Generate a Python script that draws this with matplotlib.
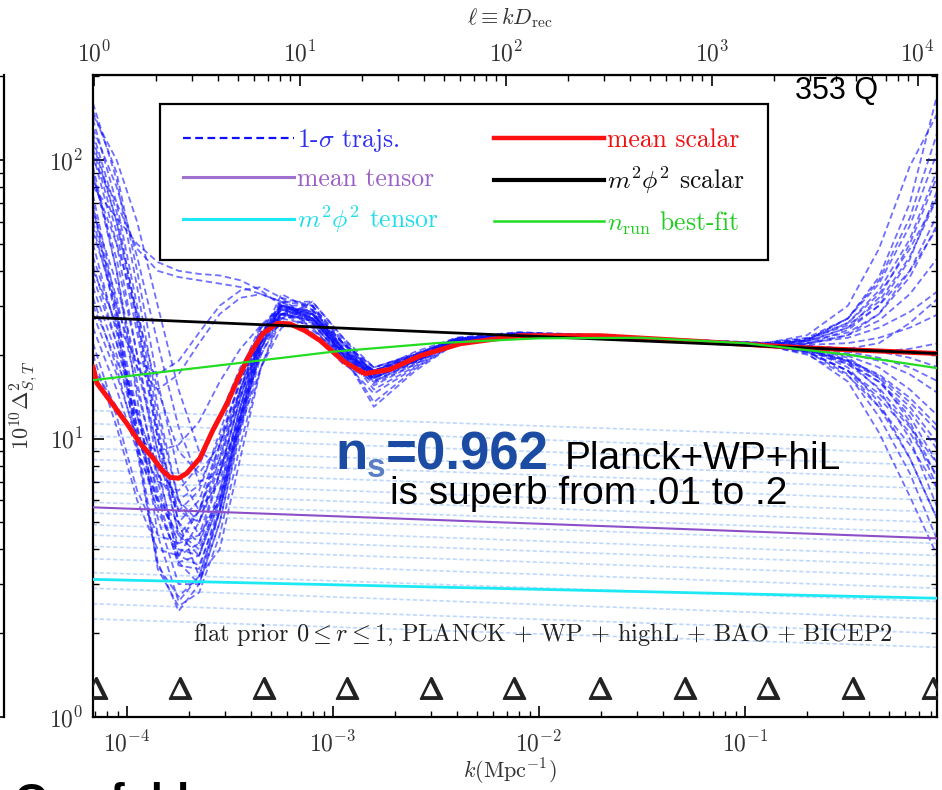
import matplotlib
matplotlib.use("Agg")
import matplotlib.pyplot as plt
from matplotlib.lines import Line2D

plt.rcParams["font.family"] = ["cmr10", "DejaVu Serif"]
plt.rcParams["mathtext.fontset"] = "cm"
plt.rcParams["axes.formatter.use_mathtext"] = True

# ---- data ----
k_lim = [6.84e-5, 0.855]
y_lim = [1.0, 202.0]
D_REC = 14500.0

# common k grid for the 1-sigma scalar trajectories
k_grid = [6.84e-5, 8.91e-5, 1.12e-4, 1.41e-4, 1.78e-4, 2.24e-4, 2.82e-4, 3.55e-4, 4.47e-4, 5.62e-4,
          7.94e-4, 1.12e-3, 1.58e-3, 2.51e-3, 3.98e-3, 7.94e-3, 1.58e-2, 3.16e-2, 6.31e-2, 0.126,
          0.200, 0.316, 0.447, 0.631, 0.871]

scalar_trajs = [
    [140, 70, 30, 12, 6.0, 5.0, 7.5, 14, 24, 29, 27, 20, 16.5, 19, 22, 23.8, 23.5, 22.9, 22.3, 21.8, 22.5, 27, 38, 70, 180],
    [120, 60, 26, 10, 4.5, 3.8, 6.0, 12, 22, 30, 28, 21, 17, 19.5, 22.5, 23.5, 23.0, 22.5, 22.0, 21.5, 21.0, 19, 15, 10, 5.5],
    [95, 40, 14, 4.5, 2.6, 3.2, 5.5, 11.5, 21, 31, 30, 21, 15.5, 18.5, 22.5, 24.0, 23.6, 23.0, 22.4, 22.0, 23.5, 30, 48, 95, 150],
    [75, 30, 10, 3.6, 2.4, 3.0, 5.5, 12, 23, 33, 29, 19, 14.5, 18, 22, 23.6, 23.3, 22.8, 22.2, 21.6, 20.5, 17, 12, 7.5, 4.2],
    [60, 32, 15, 7.5, 4.0, 3.8, 6.0, 12, 22, 28, 26, 19.5, 16.5, 19, 22.5, 23.9, 23.4, 22.8, 22.3, 21.9, 22.8, 25.5, 31, 45, 75],
    [110, 55, 24, 10, 5.5, 5.0, 8.0, 15, 25, 30, 27, 20, 17, 19.5, 22.8, 23.7, 23.3, 22.7, 22.1, 21.5, 20.6, 18.5, 16, 12.5, 9],
    [45, 25, 12, 6.5, 4.2, 4.5, 7.5, 14, 23, 28, 27, 21, 17.5, 20, 22.8, 23.6, 23.2, 22.6, 22.1, 21.7, 22.0, 23.5, 26.5, 33, 45],
    [35, 20, 10.5, 6.0, 4.5, 5.5, 9.5, 16.5, 25, 29, 27, 20.5, 17, 19.8, 22.3, 23.4, 23.1, 22.7, 22.2, 21.6, 21.0, 19.8, 18, 15, 12],
    [28, 17, 10, 7, 6.5, 8.0, 12, 18, 24, 27, 25.5, 20, 17.5, 20.5, 23.0, 24.0, 23.7, 23.0, 22.5, 21.9, 21.2, 20.2, 19, 17, 14.5],
    [22, 12, 6.5, 4.5, 4.2, 5.5, 9, 15, 23, 28, 25, 19, 16.5, 19.5, 22.5, 23.8, 23.5, 22.9, 22.4, 22.0, 22.4, 24, 28, 38, 60],
    [18, 13, 10, 9, 9.5, 11.5, 16, 21, 25.5, 26.5, 24, 18.5, 16, 19, 22.4, 23.7, 23.4, 22.8, 22.3, 21.8, 21.0, 18, 13.5, 8.5, 5.0],
    [130, 80, 45, 22, 11, 7.0, 7.5, 12, 20, 27, 28, 22, 18, 20, 22.8, 23.8, 23.4, 22.8, 22.3, 21.8, 21.7, 22, 23, 25, 28],
    [100, 70, 48, 40, 38, 37, 36, 35, 33, 31, 27, 21, 17.5, 19.5, 22.5, 23.6, 23.3, 22.7, 22.2, 21.7, 22.3, 25, 32, 50, 90],
    [80, 62, 50, 43, 40, 39, 38.5, 37, 34, 30, 25, 19.5, 17, 19.5, 22.6, 23.9, 23.5, 22.8, 22.2, 21.6, 20.8, 18.8, 16, 12, 8],
    [55, 30, 18, 15, 17, 22, 28, 32, 33, 31, 26, 20, 17.5, 20, 23, 24.1, 23.6, 23.0, 22.5, 22.0, 22.8, 26, 33, 48, 75],
    [40, 26, 19, 17, 19, 24, 30, 34, 35, 32, 26, 19.5, 16.5, 19.2, 22.4, 23.7, 23.3, 22.8, 22.3, 21.7, 20.8, 19, 16.5, 13, 9.5],
    [150, 90, 40, 16, 7.5, 5.5, 7, 13, 23, 31, 31, 23, 18, 20, 22.6, 23.7, 23.3, 22.7, 22.1, 21.6, 21.5, 21, 20.5, 19.5, 18],
    [70, 28, 9.5, 3.4, 2.5, 2.8, 4.5, 9.5, 18, 27, 31, 23, 17, 19, 22.2, 23.6, 23.2, 22.6, 22.0, 21.5, 20.2, 16, 10.5, 6.2, 3.7],
    [90, 40, 16, 7.0, 3.8, 3.5, 5.5, 11.5, 22, 32, 30, 20, 13.5, 17.8, 22.2, 23.9, 23.6, 23.0, 22.5, 22.1, 23.0, 27, 36, 58, 110],
    [50, 24, 11, 5.2, 3.0, 3.0, 5.0, 10.5, 20, 28, 29, 22, 17.5, 19.8, 22.6, 23.6, 23.3, 22.7, 22.2, 21.7, 21.4, 20.5, 19.5, 18, 16],
    [32, 18, 9.5, 5.5, 3.8, 4.2, 7.5, 14, 23, 29.5, 28, 21, 16.8, 19.3, 22.3, 23.5, 23.2, 22.6, 22.1, 21.6, 20.0, 16.8, 13, 9.5, 6.5],
    [25, 15, 9.0, 6.0, 5.0, 6.0, 9.5, 16, 24, 28, 26.5, 20.5, 17.2, 19.7, 22.7, 23.9, 23.5, 22.9, 22.3, 21.8, 22.0, 23, 25, 28.5, 34],
    [160, 85, 35, 13, 6.0, 4.5, 6.0, 11.5, 21, 28, 28, 21.5, 17.5, 19.6, 22.4, 23.5, 23.1, 22.6, 22.1, 21.6, 21.8, 23.5, 28, 40, 65],
    [65, 36, 18, 9, 5.5, 5.5, 8.5, 15, 24, 30, 28, 20, 13, 17.5, 22.1, 23.6, 23.3, 22.7, 22.1, 21.6, 20.8, 19, 17, 14, 11],
    [20, 11, 6.0, 4.0, 3.8, 5.0, 8.5, 14.5, 22, 26, 24.5, 19.8, 17, 19.4, 22.3, 23.7, 23.4, 22.9, 22.4, 21.9, 21.5, 21, 20.5, 21, 22],
    [85, 50, 28, 15, 9.0, 7.5, 9.5, 15, 23, 28, 26.5, 20.5, 17.5, 20, 22.9, 23.8, 23.4, 22.8, 22.2, 21.7, 20.5, 17.5, 14, 10.5, 7.2],
    [115, 60, 28, 11, 5.0, 3.2, 4.0, 8.5, 18, 28, 30, 22.5, 17, 19, 22.3, 23.6, 23.2, 22.6, 22.1, 21.6, 22.5, 26, 34, 52, 95],
    [38, 22, 12.5, 7.5, 5.5, 6.5, 10.5, 17.5, 25.5, 30, 27, 20, 16.2, 18.8, 22.4, 23.7, 23.3, 22.8, 22.3, 21.8, 21.2, 19.5, 16.5, 11.5, 7],
    [125, 65, 27, 10.5, 5.0, 4.2, 6.5, 13, 23, 30, 28.5, 21, 16.5, 19.2, 22.4, 23.6, 23.2, 22.7, 22.2, 21.7, 21.9, 24.5, 30, 44, 80],
    [105, 50, 20, 8, 3.6, 3.0, 5.0, 11, 21, 29, 29, 22, 17, 19, 22.3, 23.7, 23.3, 22.7, 22.1, 21.6, 20.6, 17.5, 13, 8.5, 5],
    [58, 28, 12.5, 6.2, 3.5, 3.4, 5.8, 12, 22, 30, 28.5, 21, 16, 18.8, 22.4, 23.8, 23.4, 22.8, 22.3, 21.8, 22.4, 25, 30, 40, 58],
    [42, 22, 11, 5.8, 3.6, 3.8, 6.5, 13, 23, 29, 27.5, 20.8, 16.8, 19.4, 22.5, 23.7, 23.3, 22.7, 22.2, 21.7, 21.0, 19.2, 16.8, 13.5, 10.5],
    [145, 100, 60, 30, 15, 9, 8, 11, 18, 25, 27, 22, 18, 20.2, 22.7, 23.7, 23.3, 22.7, 22.2, 21.7, 22.6, 27, 37, 62, 130],
    [30, 19, 12, 8, 6, 6.8, 10, 16, 23.5, 28, 26.5, 20.3, 16.6, 19.2, 22.5, 23.8, 23.4, 22.8, 22.2, 21.7, 20.4, 17.5, 14.5, 11, 8],
    [68, 26, 9, 3.5, 2.7, 3.2, 5.5, 11, 21, 30, 30, 22, 15.8, 18.5, 22.2, 23.7, 23.3, 22.7, 22.2, 21.7, 21.2, 21, 22, 26, 32],
    [88, 44, 20, 9, 4.6, 4.0, 6.2, 12.5, 22.5, 29.5, 28, 20.5, 15, 18.2, 22.3, 23.8, 23.5, 22.9, 22.3, 21.8, 20.9, 18.5, 15.2, 11.2, 6.5],
]

# mean scalar (red)
k_red = [6.84e-5, 7.15e-5, 8.26e-5, 1.0e-4, 1.16e-4, 1.34e-4, 1.48e-4, 1.62e-4, 1.78e-4, 1.95e-4,
         2.26e-4, 2.61e-4, 3.05e-4, 3.42e-4, 3.95e-4, 4.57e-4, 5.35e-4, 6.18e-4, 7.3e-4, 8.65e-4,
         1.14e-3, 1.43e-3, 1.89e-3, 2.64e-3, 4.14e-3, 8.09e-3, 1.98e-2, 6.05e-2, 0.185, 0.855]
mean_scalar = [18.1, 15.8, 13.7, 11.3, 9.6, 8.5, 7.7, 7.25, 7.2, 7.5,
               8.5, 10.7, 13.3, 16.1, 20.1, 23.8, 25.9, 25.8, 24.4, 22.5,
               18.8, 17.1, 17.7, 19.8, 21.9, 23.4, 23.4, 22.3, 21.2, 20.2]

# straight power laws (values at the two ends of the k range)
m2phi2_scalar = [27.2, 20.2]
mean_tensor = [5.66, 4.38]
m2phi2_tensor = [3.12, 2.67]

# n_run best fit (green)
k_green = [6.84e-5, 3.16e-4, 1.0e-3, 3.16e-3, 1.0e-2, 3.16e-2, 0.1, 0.316, 0.855]
nrun_fit = [16.2, 18.5, 20.5, 22.0, 22.9, 23.0, 22.0, 20.0, 17.9]

# 1-sigma tensor trajectories (faint light blue), values at both ends
tensor_start = [12.6, 11.3, 10.2, 9.2, 8.4, 7.7, 7.0, 6.4, 5.9, 5.4, 4.9, 4.5, 4.1, 3.7, 3.3, 2.9, 2.55, 2.25]
tensor_end = [9.9, 8.8, 8.0, 7.2, 6.6, 6.0, 5.45, 5.0, 4.6, 4.2, 3.8, 3.5, 3.2, 2.9, 2.6, 2.25, 2.0, 1.78]

# spline knots (triangles)
k_knots = [7.1e-5, 1.8e-4, 4.6e-4, 1.17e-3, 3.0e-3, 7.6e-3, 1.98e-2, 5.1e-2, 0.129, 0.334, 0.82]
knot_level = 1.27

legend_labels = [r"1-$\sigma$ trajs.", "mean tensor", r"$m^2\phi^2$ tensor",
                 "mean scalar", r"$m^2\phi^2$ scalar", r"$n_{\rm run}$ best-fit"]

# ---- figure ----
W, H = 942, 790
fig = plt.figure(figsize=(W / 100, H / 100), dpi=100)
ax_box = [93 / W, 1 - 717 / H, 844 / W, 642 / H]
ax = fig.add_axes(ax_box)

# edge of the neighbouring panel on the slide
axl = fig.add_axes([(4 - 60) / W, ax_box[1], 60 / W, ax_box[3]])
axl.set_yscale("log")
axl.set_ylim(y_lim)
axl.set_xlim(0, 1)
for s in ["left", "top", "bottom"]:
    axl.spines[s].set_visible(False)
axl.spines["right"].set_linewidth(1.6)
axl.set_xticks([])
axl.tick_params(axis="y", which="both", direction="in", left=False, right=True,
                labelleft=False, labelright=False)
axl.tick_params(axis="y", which="major", length=8, width=1.2)
axl.tick_params(axis="y", which="minor", length=4, width=1.0)

blue = "#1010ff"
light_blue = "#a8caff"
purple = "#8b4fc8"
cyan = "#1de9f5"
red = "#ff1010"
green = "#22dd22"

for a, b in zip(tensor_start, tensor_end):
    ax.plot(k_lim, [a, b], color=light_blue, lw=1.2, ls=(0, (2.5, 1.5)), alpha=0.75, zorder=1)

for tr in scalar_trajs:
    ax.plot(k_grid, tr, color=blue, lw=1.3, ls=(0, (3.5, 2)), alpha=0.6, zorder=2)

ax.plot(k_lim, m2phi2_tensor, color=cyan, lw=2.0, zorder=3)
ax.plot(k_lim, mean_tensor, color=purple, lw=1.5, zorder=3)
ax.plot(k_red, mean_scalar, color=red, lw=3.6, zorder=3.5, solid_capstyle="round",
        solid_joinstyle="round")
ax.plot(k_lim, m2phi2_scalar, color="black", lw=2.0, zorder=4)
ax.plot(k_green, nrun_fit, color=green, lw=1.6, zorder=5)

ax.plot(k_knots, [knot_level] * len(k_knots), ls="none", marker=r"$\Delta$",
        ms=16, color="#222222", zorder=5)

ax.set_xscale("log")
ax.set_yscale("log")
ax.set_xlim(k_lim)
ax.set_ylim(y_lim)

tick_col = "#333333"
ax.tick_params(which="both", direction="in", top=False, right=True, labelsize=17,
               labelcolor=tick_col)
ax.tick_params(which="major", length=8, width=1.2)
ax.tick_params(which="minor", length=4, width=1.0)
ax.tick_params(axis="x", pad=10)
ax.tick_params(axis="y", pad=7)
for s in ax.spines.values():
    s.set_linewidth(1.6)

sec = ax.secondary_xaxis("top", functions=(lambda k: k * D_REC, lambda l: l / D_REC))
sec.tick_params(which="both", direction="in", labelsize=17, labelcolor=tick_col, pad=6)
sec.tick_params(which="major", length=8, width=1.2)
sec.tick_params(which="minor", length=4, width=1.0)

# legend
handles = [
    Line2D([], [], color=blue, lw=1.6, ls=(0, (3.5, 2))),
    Line2D([], [], color="#a070d0", lw=2.2),
    Line2D([], [], color=cyan, lw=2.2),
    Line2D([], [], color=red, lw=3.2),
    Line2D([], [], color="black", lw=3.0),
    Line2D([], [], color=green, lw=1.8),
]
leg = ax.legend(handles, legend_labels, ncol=2, loc="upper left",
                bbox_to_anchor=(0.0794, 0.715, 0.7205, 0.24), mode="expand",
                borderaxespad=0, fontsize=18.5, handlelength=4.3, handletextpad=0.12,
                labelspacing=0.5, borderpad=0.9, fancybox=False, framealpha=1,
                edgecolor="black", columnspacing=1.0)
leg.get_frame().set_linewidth(1.6)
leg.set_zorder(10)
for txt, col in zip(leg.get_texts(), ["#3030ee", "#9a60c8", "#20dcec", "#ee1111", "#111111", "#22cc22"]):
    txt.set_color(col)

ax.text(0.533, 0.128, r"flat prior $0 \leq r \leq 1$, PLANCK + WP + highL + BAO + BICEP2",
        transform=ax.transAxes, ha="center", va="center", fontsize=17.5, color="#222222")

# axis labels
fig.text(510 / W, 1 - 772 / H, r"$k(\mathrm{Mpc}^{-1})$", ha="center", va="center",
         fontsize=16, color=tick_col)
fig.text(510 / W, 1 - 18 / H, r"$\ell \equiv kD_{\rm rec}$", ha="center", va="center",
         fontsize=16, color=tick_col)
fig.text(24 / W, 1 - 405 / H, r"$10^{10}\Delta^2_{S,T}$", ha="center", va="center",
         rotation=90, fontsize=16, color=tick_col)

# slide overlay text
sans = "Liberation Sans"
ns_col = "#1c4ba3"
base1 = 1 - 469 / H
fig.text(335 / W, base1, "n", fontsize=38, weight="bold", family=sans,
         color=ns_col, va="baseline")
fig.text(367 / W, base1 - 8 / H, "s", fontsize=24, weight="bold", family=sans,
         color="#5b7fc4", va="baseline")
fig.text(386 / W, base1, "=0.962", fontsize=38, weight="bold", family=sans,
         color=ns_col, va="baseline")
fig.text(565 / W, base1, "Planck+WP+hiL", fontsize=28, family=sans,
         color="black", va="baseline")
fig.text(390 / W, 1 - 504 / H, "is superb from .01 to .2", fontsize=28, family=sans,
         color="black", va="baseline")
fig.text(795 / W, 1 - 99 / H, "353 Q", fontsize=22, family=sans, color="black",
         va="baseline")
fig.text(15 / W, 1 - 782 / H, "One fold", fontsize=31, weight="bold", family=sans,
         color="black", va="top")

fig.savefig("out.png", dpi=100)
